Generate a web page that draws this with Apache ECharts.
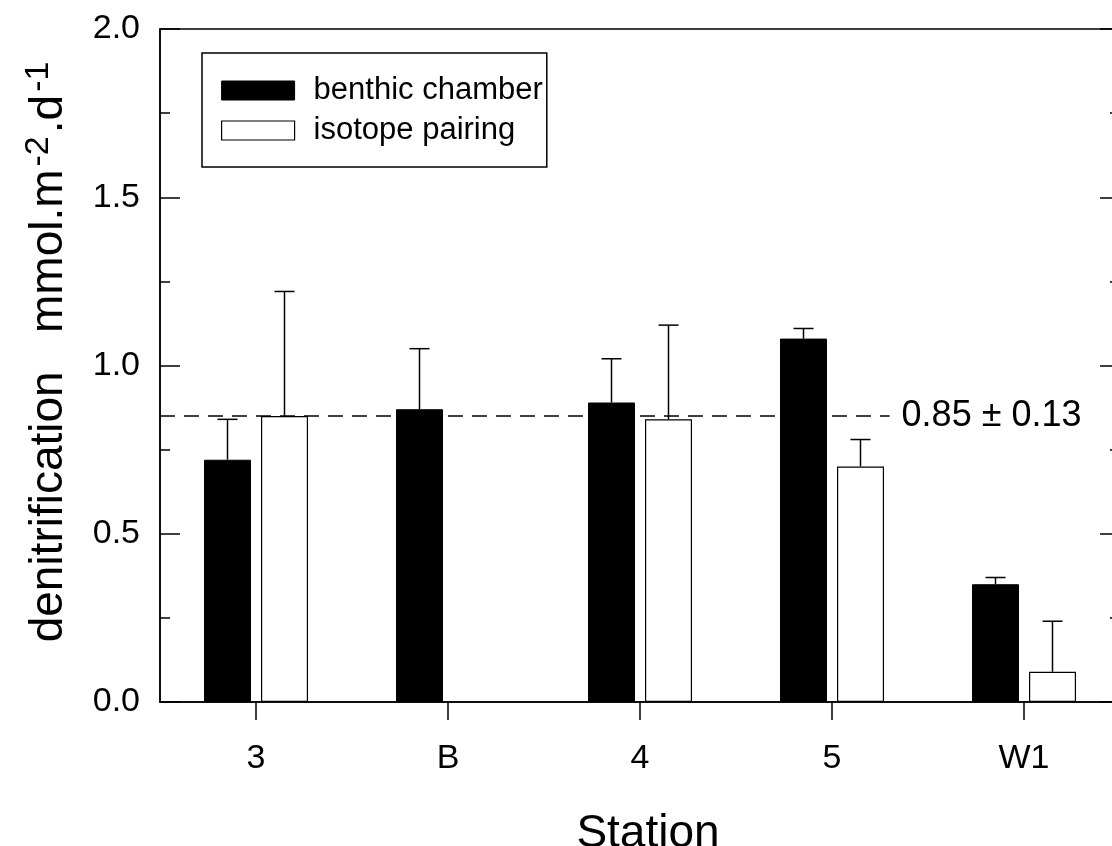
<!DOCTYPE html>
<html>
<head>
<meta charset="utf-8">
<script src="https://cdn.jsdelivr.net/npm/echarts@6/dist/echarts.min.js"></script>
<style>
  html, body { margin: 0; padding: 0; background: #fff; }
  #chart { width: 1112px; height: 846px; }
</style>
</head>
<body>
<div id="chart"></div>
<script>
// Denitrification rates per station (mmol m-2 d-1), mean + SD
const stations = ['3', 'B', '4', '5', 'W1'];
const benthicChamber = [0.72, 0.87, 0.89, 1.08, 0.35];
const benthicChamberSd = [0.12, 0.18, 0.13, 0.03, 0.02];
const isotopePairing = [0.85, null, 0.84, 0.70, 0.09];
const isotopePairingSd = [0.37, null, 0.28, 0.08, 0.15];
const overallMean = 0.85;
const overallSd = 0.13;
const yTickValues = [0, 0.5, 1.0, 1.5, 2.0];

const FONT = '"Liberation Sans", Arial, Helvetica, sans-serif';
const BAR_W = 47;
const BAR_GAP_PX = 10;
const offsetBC = -(BAR_W + BAR_GAP_PX) / 2;
const offsetIP = (BAR_W + BAR_GAP_PX) / 2;

function errorBarSeries(values, sds, offset) {
  const data = values.map((v, i) => (v == null || sds[i] == null) ? null : [i, v, sds[i]]).filter(d => d);
  return {
    type: 'custom',
    xAxisIndex: 0,
    yAxisIndex: 0,
    z: 5,
    silent: true,
    data: data,
    renderItem: function (params, api) {
      const i = api.value(0), v = api.value(1), sd = api.value(2);
      const base = api.coord([i, v]);
      const top = api.coord([i, v + sd]);
      const x = base[0] + offset;
      const cap = 10;
      const st = { stroke: '#000', lineWidth: 1.5 };
      return {
        type: 'group',
        children: [
          { type: 'line', shape: { x1: x, y1: base[1], x2: x, y2: top[1] }, style: st },
          { type: 'line', shape: { x1: x - cap, y1: top[1], x2: x + cap, y2: top[1] }, style: st }
        ]
      };
    }
  };
}

const chart = echarts.init(document.getElementById('chart'), null, { renderer: 'canvas' });

const yMin = yTickValues[0], yMax = yTickValues[yTickValues.length - 1];
const yStep = yTickValues[1] - yTickValues[0];

const tickStyle = { color: '#000', width: 1.5 };

const option = {
  animation: false,
  backgroundColor: '#fff',
  textStyle: { fontFamily: FONT, color: '#000' },
  grid: {
    left: 160, top: 29, width: 960, height: 673,
    outerBoundsMode: 'none',
    containLabel: false,
    show: true, borderColor: '#000', borderWidth: 1.5, backgroundColor: 'transparent'
  },
  legend: {
    left: 202, top: 53,
    orient: 'vertical',
    itemWidth: 73, itemHeight: 19, itemGap: 9,
    padding: [22, 4, 21, 19],
    borderColor: '#000', borderWidth: 1.5,
    selectedMode: false,
    textStyle: { fontFamily: FONT, fontSize: 31, color: '#000', padding: [2, 0, 0, 14] },
    data: [
      { name: 'benthic chamber', icon: 'rect', itemStyle: { color: '#000', borderColor: '#000', borderWidth: 1 } },
      { name: 'isotope pairing', icon: 'rect', itemStyle: { color: '#fff', borderColor: '#000', borderWidth: 1.2 } }
    ]
  },
  xAxis: [
    {
      type: 'category',
      data: stations,
      boundaryGap: true,
      name: 'Station',
      nameLocation: 'middle',
      nameGap: 109,
      nameTextStyle: { fontFamily: FONT, fontSize: 46, color: '#000', padding: [0, 0, 0, 16] },
      axisLine: { show: true, onZero: false, lineStyle: tickStyle },
      axisTick: { show: true, alignWithLabel: true, length: 18, inside: false, lineStyle: tickStyle },
      axisLabel: { fontFamily: FONT, fontSize: 34, color: '#000', margin: 40 },
      splitLine: { show: false }
    },
    {
      type: 'value',
      min: 0, max: 1,
      show: false
    }
  ],
  yAxis: [
    {
      type: 'value',
      position: 'left',
      min: yMin, max: yMax, interval: yStep,
      name: '{t|denitrification   mmol.m}{s|-2}{t|.d}{s|-1}',
      nameLocation: 'middle',
      nameRotate: 90,
      nameGap: 88,
      nameTextStyle: {
        padding: [0, 0, 0, 30],
        rich: {
          t: { fontFamily: FONT, fontSize: 46, color: '#000', verticalAlign: 'bottom', lineHeight: 50 },
          s: { fontFamily: FONT, fontSize: 34, color: '#000', verticalAlign: 'top', lineHeight: 50, padding: [0, 3, 24, 3] }
        }
      },
      axisLine: { show: true, onZero: false, lineStyle: tickStyle },
      axisTick: { show: true, inside: true, length: 20, lineStyle: tickStyle },
      minorTick: { show: true, splitNumber: 2, length: 10, lineStyle: tickStyle },
      axisLabel: {
        fontFamily: FONT, fontSize: 34, color: '#000', margin: 20,
        formatter: v => v.toFixed(1)
      },
      splitLine: { show: false }
    },
    {
      type: 'value',
      position: 'right',
      offset: 0,
      min: yMin, max: yMax, interval: yStep,
      axisLine: { show: true, onZero: false, lineStyle: tickStyle },
      axisTick: { show: true, inside: true, length: 20, lineStyle: tickStyle },
      minorTick: { show: true, splitNumber: 2, length: 10, lineStyle: tickStyle },
      axisLabel: { show: false },
      splitLine: { show: false }
    }
  ],
  series: [
    {
      name: 'benthic chamber',
      type: 'bar',
      xAxisIndex: 0, yAxisIndex: 0,
      barWidth: BAR_W,
      barGap: (BAR_GAP_PX / BAR_W * 100).toFixed(1) + '%',
      itemStyle: { color: '#000', borderColor: '#000', borderWidth: 1 },
      data: benthicChamber,
      z: 2
    },
    {
      name: 'isotope pairing',
      type: 'bar',
      xAxisIndex: 0, yAxisIndex: 0,
      barWidth: BAR_W,
      barGap: (BAR_GAP_PX / BAR_W * 100).toFixed(1) + '%',
      itemStyle: { color: '#fff', borderColor: '#000', borderWidth: 1.2 },
      data: isotopePairing.map(v => v == null ? '-' : v),
      z: 2
    },
    errorBarSeries(benthicChamber, benthicChamberSd, offsetBC),
    errorBarSeries(isotopePairing, isotopePairingSd, offsetIP),
    {
      // overall mean reference line with its label
      name: 'mean',
      type: 'line',
      xAxisIndex: 1, yAxisIndex: 0,
      symbol: 'none',
      silent: true,
      z: 3,
      lineStyle: { color: '#000', width: 1.5, type: [15, 9] },
      data: [[0, overallMean], [0.76, overallMean]],
      endLabel: {
        show: true,
        distance: 12,
        fontFamily: FONT, fontSize: 36, color: '#000',
        formatter: () => overallMean.toFixed(2) + ' \u00b1 ' + overallSd.toFixed(2)
      }
    }
  ]
};

chart.setOption(option);
</script>
</body>
</html>
